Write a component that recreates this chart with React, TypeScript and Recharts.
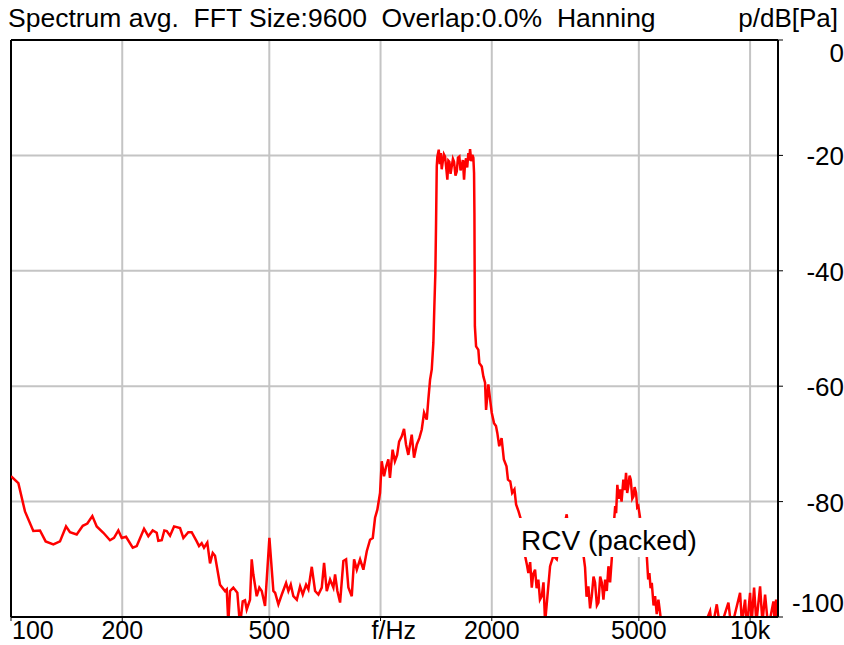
import { CartesianGrid, Line, LineChart, ReferenceLine, XAxis, YAxis } from "recharts";

// frequency (Hz) and level (dB)
const freqs = [
  100, 104.7, 109.1, 114.9, 119.8, 124.1, 130.2, 135.7, 140.9, 144.4,
  150.6, 156.4, 160.9, 166, 170.6, 177.8, 185.3, 190, 195.2, 199.4,
  204.8, 213.5, 218.9, 229.1, 235.3, 241.8, 247.9, 250.4, 255.8, 260,
  263.9, 269.4, 276.2, 286.7, 292.7, 301.8, 308.3, 318.1, 322.7, 328.1,
  332.9, 339.8, 345.6, 351.5, 356.5, 367.8, 379.4, 383.5, 387.3, 391.5,
  399.6, 409.7, 416.6, 423.7, 429.8, 434.4, 443.4, 448.1, 452.6, 462.3,
  469.9, 477, 486.9, 500.3, 512.9, 518.4, 529.1, 540.5, 555.1, 563.1,
  571.6, 580.9, 593.4, 605.7, 616, 628.8, 637.9, 651.5, 665.1, 678.9,
  693.4, 703.4, 715.3, 730.2, 745.4, 753.3, 764.2, 777.2, 793.3, 806.8,
  818.4, 835.9, 848, 862.4, 880.3, 898.6, 917.8, 936.8, 952.7, 966.4,
  980.3, 996.9, 1007.5, 1022, 1034.6, 1049.8, 1060.4, 1078, 1093.5, 1109,
  1122.7, 1141.3, 1157.7, 1172, 1189, 1214.5, 1232, 1253.5, 1273.6, 1292.8,
  1311.4, 1333.7, 1347, 1361.4, 1375.9, 1389.7, 1398.4, 1407.1, 1413.3, 1419.5,
  1424.8, 1437.3, 1446, 1455.3, 1464, 1473.6, 1484, 1494.8, 1505, 1516.4,
  1526, 1535.4, 1547, 1558.5, 1570, 1581, 1595, 1607.8, 1620, 1634.1,
  1646, 1658.7, 1670, 1682.7, 1693, 1703.8, 1716, 1728.4, 1738, 1746.8,
  1760, 1772, 1783, 1790.9, 1795, 1800, 1813.6, 1839.5, 1851, 1879,
  1897.7, 1918, 1930, 1957.7, 1979, 1999.6, 2028, 2053, 2070, 2095,
  2126, 2156, 2192, 2212, 2244, 2271, 2303, 2327, 2363, 2398,
  2430, 2461, 2490, 2512, 2540, 2566, 2590, 2619, 2645, 2673,
  2700, 2731, 2760, 2788, 2829, 2876, 2935, 2998, 3060, 3120,
  3190, 3230, 3300, 3380, 3467, 3520, 3576, 3610, 3651, 3690,
  3729, 3770, 3806, 3850, 3887, 3930, 3969, 4010, 4053, 4095,
  4137, 4180, 4225, 4260, 4288, 4315, 4340, 4373, 4410, 4448,
  4490, 4540, 4580, 4617, 4650, 4684, 4720, 4755, 4800, 4837,
  4870, 4914, 4950, 4985, 5038, 5150, 5254, 5300, 5340, 5380,
  5420, 5480, 5533, 5590, 5648, 5708, 5800, 6500, 7300, 7793,
  7900, 8126, 8300, 8737, 8900, 9396, 9500, 9693, 9800, 10000,
  10100, 10252, 10400, 10643, 10800, 10980, 11200, 11565, 11650, 11761,
  11900,
];

const levels = [
  -75.6, -76.8, -81.7, -85.1, -85.0, -86.9, -87.4, -86.9, -84.3, -85.3,
  -85.7, -84.2, -83.8, -82.5, -84.3, -85.4, -86.7, -86.3, -85.0, -86.3,
  -86.1, -88.0, -87.7, -84.7, -86.0, -85.0, -85.4, -86.8, -86.7, -85.0,
  -85.1, -85.9, -84.3, -84.6, -86.3, -85.3, -85.3, -86.9, -87.7, -87.2,
  -88.0, -87.1, -90.7, -88.9, -89.4, -94.4, -95.5, -95.2, -101, -95.5,
  -94.9, -95.8, -101.5, -97.3, -97.1, -98.7, -97.0, -90.0, -92.6, -96.4,
  -94.9, -95.5, -98.1, -86.3, -95.5, -95.8, -97.8, -96.1, -94.1, -95.5,
  -94.4, -96.4, -97.0, -94.7, -96.1, -94.4, -95.2, -91.3, -95.5, -96.1,
  -94.9, -90.6, -95.5, -93.5, -94.9, -92.6, -95.5, -97.5, -90.3, -90.0,
  -94.9, -96.4, -90.0, -91.8, -90.0, -91.8, -88.6, -86.6, -86.3, -82.8,
  -81.4, -78.5, -73.0, -75.6, -74.0, -72.7, -75.9, -71.0, -73.0, -71.9,
  -69.6, -68.7, -67.4, -70.1, -71.9, -68.4, -72.4, -70.1, -69.0, -67.5,
  -64.6, -65.8, -62.3, -58.9, -57.1, -52.5, -46.2, -40.4, -31.7, -21.9,
  -20.2, -19.0, -21.5, -19.6, -22.4, -21.1, -19.8, -20.2, -22.0, -24.2,
  -20.9, -21.1, -23.2, -21.9, -20.6, -21.1, -23.5, -22.8, -20.4, -20.2,
  -22.6, -21.9, -20.8, -24.2, -21.4, -20.5, -22.1, -19.6, -20.9, -18.9,
  -21.0, -19.9, -20.4, -23.1, -30.0, -49.6, -53.1, -53.7, -56.0, -56.6,
  -58.3, -59.4, -64.1, -59.7, -62.3, -64.6, -66.4, -66.9, -68.1, -70.4,
  -69.0, -72.7, -73.9, -76.2, -76.5, -78.5, -77.9, -80.5, -81.7, -83.1,
  -85.5, -89.4, -91.0, -92.4, -90.5, -94.9, -92.5, -91.8, -95.0, -93.5,
  -97.0, -96.4, -94.0, -101, -96.4, -91.2, -89.4, -90.0, -86.5, -85.0,
  -82.2, -86.0, -84.5, -87.0, -82.9, -88.0, -91.4, -96.5, -94.7, -98.5,
  -96.4, -93.0, -94.0, -98.0, -97.5, -93.0, -94.0, -97.0, -93.5, -95.5,
  -91.2, -94.0, -89.8, -86.0, -83.1, -80.8, -82.0, -77.1, -79.5, -77.9,
  -80.0, -76.2, -78.0, -75.0, -78.5, -77.3, -75.5, -76.2, -79.5, -79.1,
  -77.5, -78.5, -81.0, -80.8, -82.8, -86.0, -89.4, -93.5, -92.4, -95.0,
  -94.1, -98.0, -96.4, -99.5, -97.0, -99.3, -103, -104, -103.5, -99.0,
  -102, -97.8, -102, -97.5, -102, -95.8, -101, -97.0, -102, -95.8,
  -101, -94.9, -101, -94.7, -101, -96.1, -102, -97.3, -101, -97.0,
  -100.5,
];

const freqTicks = [100, 200, 500, 1000, 2000, 5000, 10000];
const freqTickLabels = ["100", "200", "500", "f/Hz", "2000", "5000", "10k"];
const levelTicks = [0, -20, -40, -60, -80, -100];

const title = "Spectrum avg.  FFT Size:9600  Overlap:0.0%  Hanning";
const unitLabel = "p/dB[Pa]";
const seriesLabel = "RCV (packed)";

const data = freqs.map((f, i) => ({ f, level: levels[i] }));

const FONT = "'Liberation Sans', Arial, sans-serif";

function FreqTick(props: any) {
  const { x, y, payload } = props;
  const idx = freqTicks.indexOf(payload.value);
  const label = freqTickLabels[idx] ?? String(payload.value);
  let anchor = "middle";
  let tx = x;
  if (payload.value === 100) {
    anchor = "start";
    tx = x + 1;
  } else if (payload.value === 1000) {
    anchor = "start";
    tx = x - 9;
  }
  return (
    <text x={tx} y={y + 16} textAnchor={anchor} fontSize={25} fontFamily={FONT} fill="#000">
      {label}
    </text>
  );
}

function LevelTick(props: any) {
  const { x, y, payload } = props;
  let dy = 10;
  if (payload.value === 0) dy = 22;
  if (payload.value === -100) dy = -5;
  return (
    <text x={x + 59} y={y + dy} textAnchor="end" fontSize={26} fontFamily={FONT} fill="#000">
      {payload.value}
    </text>
  );
}

export default function App() {
  return (
    <div style={{ position: "absolute", left: 0, top: 0, width: 844, height: 645, background: "#fff" }}>
      <LineChart width={844} height={645} data={data} margin={{ top: 40, right: 0, bottom: 0, left: 11 }}>
        <CartesianGrid stroke="#c4c4c4" strokeWidth={2} />
        <XAxis
          dataKey="f"
          type="number"
          scale="log"
          domain={[100, 11900]}
          allowDataOverflow
          ticks={freqTicks}
          interval={0}
          height={28}
          tick={<FreqTick />}
          tickSize={4}
          tickLine={{ stroke: "#000", strokeWidth: 1 }}
          axisLine={{ stroke: "#000", strokeWidth: 2 }}
        />
        <YAxis
          orientation="right"
          type="number"
          domain={[-100, 0]}
          allowDataOverflow
          ticks={levelTicks}
          interval={0}
          width={66}
          tick={<LevelTick />}
          tickSize={5}
          tickLine={{ stroke: "#000", strokeWidth: 1 }}
          axisLine={{ stroke: "#000", strokeWidth: 2 }}
        />
        <ReferenceLine y={0} stroke="#000" strokeWidth={2} />
        <ReferenceLine x={100} stroke="#000" strokeWidth={2} />
        <Line
          type="linear"
          dataKey="level"
          stroke="#ff0000"
          strokeWidth={2.5}
          dot={false}
          isAnimationActive={false}
        />
      </LineChart>
      <svg
        width={844}
        height={645}
        style={{ position: "absolute", left: 0, top: 0, pointerEvents: "none" }}
      >
        <text x={8} y={27} fontSize={26.5} fontFamily={FONT} fill="#000" style={{ whiteSpace: "pre" }}>
          {title}
        </text>
        <text x={838} y={27} textAnchor="end" fontSize={26} fontFamily={FONT} fill="#000">
          {unitLabel}
        </text>
        <rect x={516} y={518} width={184} height={39} fill="#fff" />
        <text x={521} y={550} fontSize={28} fontFamily={FONT} fill="#000">
          {seriesLabel}
        </text>
      </svg>
    </div>
  );
}
